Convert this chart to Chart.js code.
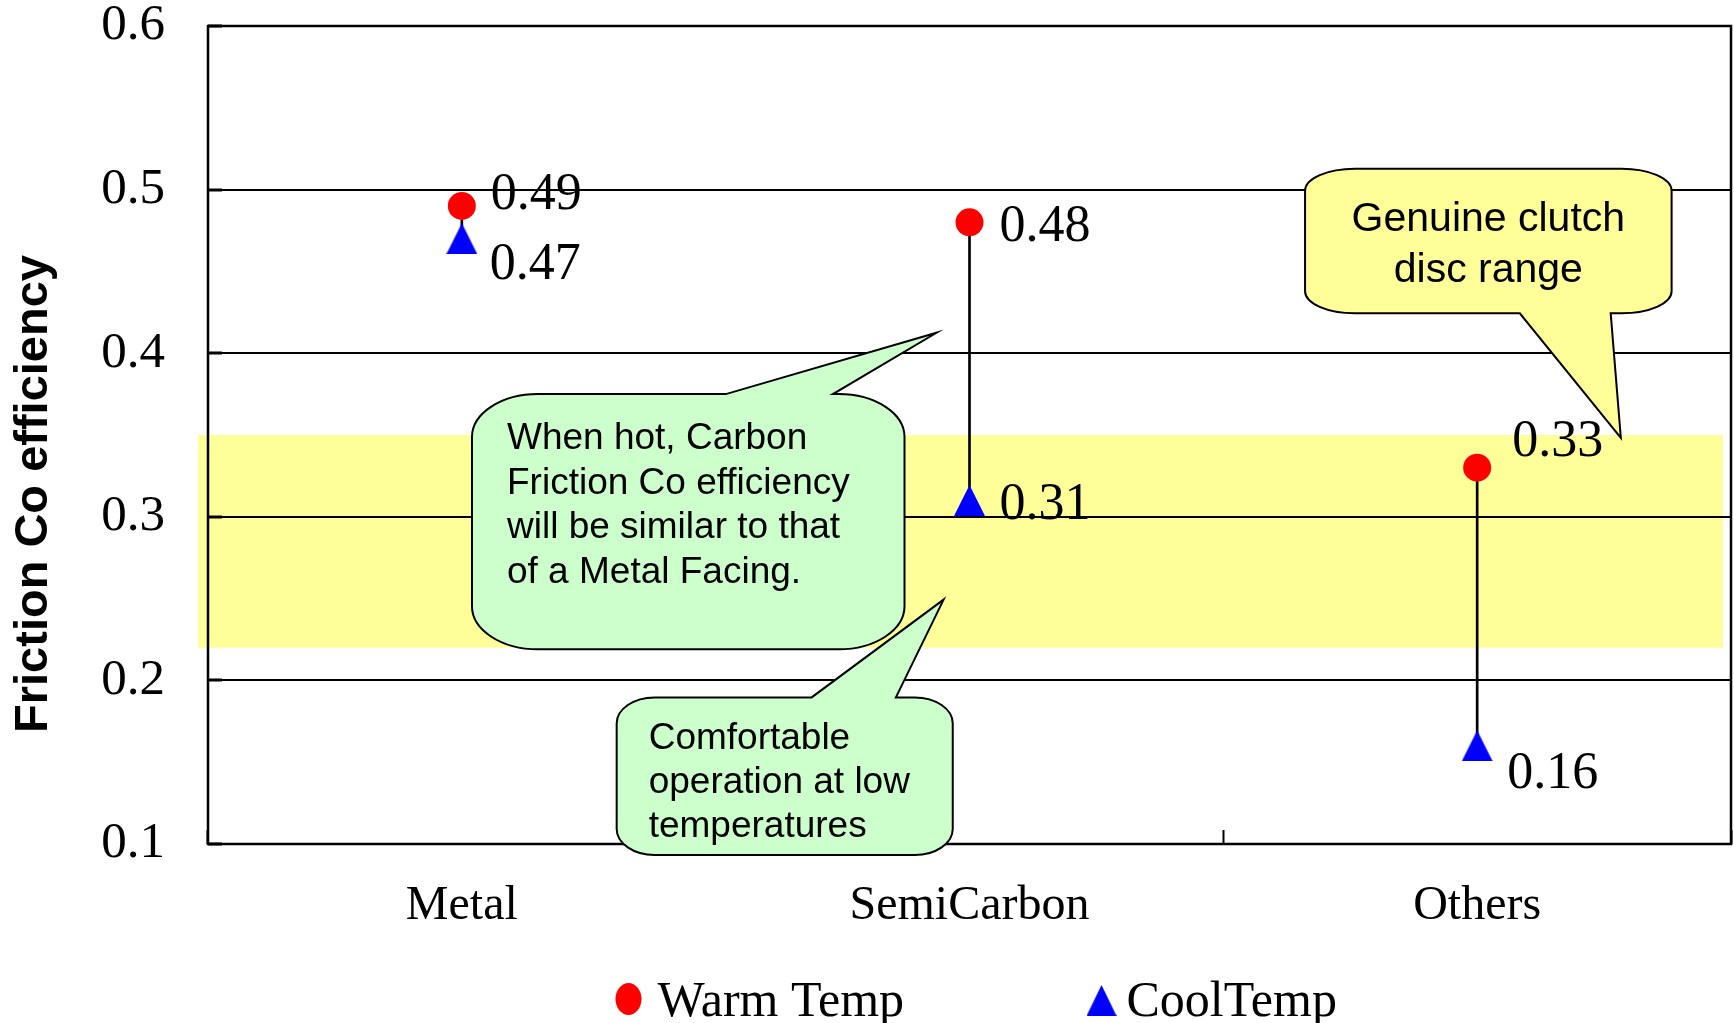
<!DOCTYPE html>
<html>
<head>
<meta charset="utf-8">
<title>Friction Co efficiency</title>
<script src="https://cdn.jsdelivr.net/npm/chart.js@4/dist/chart.umd.min.js"></script>
<style>
  html, body { margin: 0; padding: 0; background: #fff; overflow: hidden; }
  canvas { display: block; }
</style>
</head>
<body>
<canvas id="chart" width="1734" height="1023"></canvas>
<script>
// ---- data ----
const categories = ['Metal', 'SemiCarbon', 'Others'];
const warmTemp = [0.49, 0.48, 0.33];
const coolTemp = [0.47, 0.31, 0.16];
const seriesNames = ['Warm Temp', 'CoolTemp'];
const yTickValues = [0.1, 0.2, 0.3, 0.4, 0.5, 0.6];
const genuineRange = [0.22, 0.35];   // shaded band: genuine clutch disc range
const axisTitle = 'Friction Co efficiency';

// value-label placement next to each marker (pixel nudges)
const warmLabelNudge = [[29, -11], [30, 5], [35, -25]];
const coolLabelNudge = [[28, 27], [30, 5], [30, 29]];

// speech-bubble notes, placed in data space (x = category index, y = value)
const notes = [
  {
    lines: ['When hot, Carbon', 'Friction Co efficiency', 'will be similar to that', 'of a Metal Facing.'],
    box: [0.02, 0.375, 0.872, 0.219],
    tail: { side: 'top', base: [0.52, 0.731], tip: [0.935, 0.4125] },
    fill: '#CCFFCC', size: 37, align: 'left', dx: 35, first: 55, gap: 44.5, r: [66, 43]
  },
  {
    lines: ['Comfortable', 'operation at low', 'temperatures'],
    box: [0.305, 0.1896, 0.967, 0.0933],
    tail: { side: 'top', base: [0.689, 0.855], tip: [0.949, 0.2494] },
    fill: '#CCFFCC', size: 37, align: 'left', dx: 32, first: 52, gap: 44, r: [38, 26]
  },
  {
    lines: ['Genuine clutch', 'disc range'],
    box: [1.661, 0.5128, 2.383, 0.4244],
    tail: { side: 'bottom', base: [2.084, 2.263], tip: [2.283, 0.3482] },
    fill: '#FFFF99', size: 41, align: 'center', dx: 0, first: 62, gap: 51, r: [50, 22]
  }
];

const SERIF = '"Liberation Serif", "Times New Roman", serif';
const SANS = '"Liberation Sans", Arial, sans-serif';

function triangleMarker(w, h, color) {
  const c = document.createElement('canvas');
  c.width = w; c.height = h;
  const g = c.getContext('2d');
  g.fillStyle = color;
  g.beginPath();
  g.moveTo(w / 2, 0);
  g.lineTo(w, h);
  g.lineTo(0, h);
  g.closePath();
  g.fill();
  return c;
}
const blueTriangle = triangleMarker(31, 31, '#0000FF');

function noScalePadding(scale) {
  scale.paddingTop = 0;
  scale.paddingBottom = 0;
  scale.paddingLeft = 0;
  scale.paddingRight = 0;
}

// yellow band behind the grid
const bandPlugin = {
  id: 'band',
  beforeDraw(chart) {
    const { ctx, chartArea, scales } = chart;
    ctx.save();
    ctx.fillStyle = '#fff';
    ctx.fillRect(0, 0, chart.width, chart.height);
    const yTop = scales.y.getPixelForValue(genuineRange[1]);
    const yBot = scales.y.getPixelForValue(genuineRange[0]);
    ctx.fillStyle = '#FFFF99';
    ctx.fillRect(chartArea.left - 10, yTop, chartArea.right - 8 - (chartArea.left - 10), yBot - yTop);
    ctx.restore();
  }
};

// numeric labels beside the markers
const valueLabelPlugin = {
  id: 'valueLabels',
  afterDatasetsDraw(chart) {
    const { ctx } = chart;
    ctx.save();
    ctx.font = '52px ' + SERIF;
    ctx.fillStyle = '#000';
    ctx.textAlign = 'left';
    ctx.textBaseline = 'middle';
    [[0, warmTemp, warmLabelNudge], [1, coolTemp, coolLabelNudge]].forEach(([di, vals, nudge]) => {
      const meta = chart.getDatasetMeta(di);
      meta.data.forEach((pt, i) => {
        ctx.fillText(vals[i].toFixed(2), pt.x + nudge[i][0], pt.y + nudge[i][1]);
      });
    });
    ctx.restore();
  }
};

function bubblePath(ctx, l, t, r, b, rx, ry, tail) {
  ctx.beginPath();
  ctx.moveTo(l + rx, t);
  if (tail.side === 'top') {
    ctx.lineTo(tail.a, t);
    ctx.lineTo(tail.tx, tail.ty);
    ctx.lineTo(tail.b, t);
  }
  ctx.lineTo(r - rx, t);
  ctx.ellipse(r - rx, t + ry, rx, ry, 0, -Math.PI / 2, 0);
  ctx.lineTo(r, b - ry);
  ctx.ellipse(r - rx, b - ry, rx, ry, 0, 0, Math.PI / 2);
  if (tail.side === 'bottom') {
    ctx.lineTo(tail.b, b);
    ctx.lineTo(tail.tx, tail.ty);
    ctx.lineTo(tail.a, b);
  }
  ctx.lineTo(l + rx, b);
  ctx.ellipse(l + rx, b - ry, rx, ry, 0, Math.PI / 2, Math.PI);
  ctx.lineTo(l, t + ry);
  ctx.ellipse(l + rx, t + ry, rx, ry, 0, Math.PI, Math.PI * 1.5);
  ctx.closePath();
}

// frame, axis title, notes and legend
const decorPlugin = {
  id: 'decor',
  afterDraw(chart) {
    const { ctx, chartArea, scales } = chart;
    const xs = scales.x, ys = scales.y;
    ctx.save();

    // plot frame
    ctx.strokeStyle = '#000';
    ctx.lineWidth = 2.5;
    ctx.strokeRect(chartArea.left, chartArea.top, chartArea.right - chartArea.left, chartArea.bottom - chartArea.top);

    // y axis title
    ctx.save();
    ctx.translate(47, (chartArea.top + chartArea.bottom) / 2 + 59);
    ctx.rotate(-Math.PI / 2);
    ctx.font = 'bold 47px ' + SANS;
    ctx.fillStyle = '#000';
    ctx.textAlign = 'center';
    ctx.textBaseline = 'alphabetic';
    ctx.fillText(axisTitle, 0, 0);
    ctx.restore();

    // notes
    notes.forEach(n => {
      const l = xs.getPixelForValue(n.box[0]);
      const t = ys.getPixelForValue(n.box[1]);
      const r = xs.getPixelForValue(n.box[2]);
      const b = ys.getPixelForValue(n.box[3]);
      const tail = {
        side: n.tail.side,
        a: xs.getPixelForValue(n.tail.base[0]),
        b: xs.getPixelForValue(n.tail.base[1]),
        tx: xs.getPixelForValue(n.tail.tip[0]),
        ty: ys.getPixelForValue(n.tail.tip[1])
      };
      bubblePath(ctx, l, t, r, b, n.r[0], n.r[1], tail);
      ctx.fillStyle = n.fill;
      ctx.fill();
      ctx.lineWidth = 2;
      ctx.strokeStyle = '#000';
      ctx.stroke();
      ctx.fillStyle = '#000';
      ctx.font = n.size + 'px ' + SANS;
      ctx.textBaseline = 'alphabetic';
      ctx.textAlign = n.align;
      const tx = n.align === 'center' ? (l + r) / 2 : l + n.dx;
      n.lines.forEach((line, k) => ctx.fillText(line, tx, t + n.first + k * n.gap));
    });

    // legend
    const ds = chart.data.datasets;
    ctx.font = '50px ' + SERIF;
    ctx.textAlign = 'left';
    ctx.textBaseline = 'alphabetic';
    const baseY = 1016;
    const cx = (chartArea.left + chartArea.right) / 2 + 18;
    const start = cx - 372;
    // circle item
    ctx.fillStyle = ds[0].pointBackgroundColor;
    ctx.beginPath();
    ctx.ellipse(start + 13, baseY - 17, 13, 16, 0, 0, Math.PI * 2);
    ctx.fill();
    ctx.fillStyle = '#000';
    ctx.fillText(ds[0].label, start + 42, baseY);
    // triangle item
    const s2 = start + 471;
    ctx.drawImage(blueTriangle, s2, baseY - 31, 30, 31);
    ctx.fillStyle = '#000';
    ctx.fillText(ds[1].label, s2 + 40, baseY);

    ctx.restore();
  }
};

new Chart(document.getElementById('chart'), {
  type: 'line',
  data: {
    labels: categories,
    datasets: [
      {
        label: seriesNames[0],
        data: warmTemp,
        showLine: false,
        pointStyle: 'circle',
        pointRadius: 14,
        pointHoverRadius: 14,
        pointBackgroundColor: '#FF0000',
        pointBorderColor: '#FF0000',
        pointBorderWidth: 0,
        order: 1
      },
      {
        label: seriesNames[1],
        data: coolTemp,
        showLine: false,
        pointStyle: blueTriangle,
        pointRadius: 16,
        pointHoverRadius: 16,
        pointBackgroundColor: '#0000FF',
        pointBorderColor: '#0000FF',
        pointBorderWidth: 0,
        order: 2
      },
      {
        // high-low connector between the two temperatures
        type: 'bar',
        label: 'range',
        data: warmTemp.map((w, i) => [coolTemp[i], w]),
        backgroundColor: '#000',
        borderWidth: 0,
        barThickness: 2,
        order: 3
      }
    ]
  },
  options: {
    responsive: false,
    animation: false,
    events: [],
    layout: { autoPadding: false, padding: { top: 26, right: 3, left: 0, bottom: 0 } },
    plugins: {
      legend: { display: false },
      tooltip: { enabled: false },
      title: { display: false }
    },
    scales: {
      x: {
        type: 'category',
        offset: true,
        border: { display: false },
        grid: {
          offset: true,
          drawOnChartArea: false,
          drawTicks: true,
          tickLength: -14,
          tickWidth: 2,
          tickColor: '#000'
        },
        ticks: {
          color: '#000',
          font: { family: SERIF, size: 48 },
          padding: 48,
          maxRotation: 0,
          autoSkip: false
        },
        afterFit(scale) { scale.height = 179; noScalePadding(scale); }
      },
      y: {
        min: 0.1,
        max: 0.6,
        border: { display: false },
        grid: {
          color: '#000',
          lineWidth: 2,
          drawTicks: true,
          tickLength: -14,
          tickWidth: 3,
          tickColor: '#000'
        },
        ticks: {
          color: '#000',
          font: { family: SERIF, size: 51 },
          padding: 57,
          callback: v => Number(v).toFixed(1)
        },
        afterBuildTicks(scale) { scale.ticks = yTickValues.map(v => ({ value: v })); },
        afterFit(scale) { scale.width = 208; noScalePadding(scale); }
      }
    }
  },
  plugins: [bandPlugin, valueLabelPlugin, decorPlugin]
});
</script>
</body>
</html>
